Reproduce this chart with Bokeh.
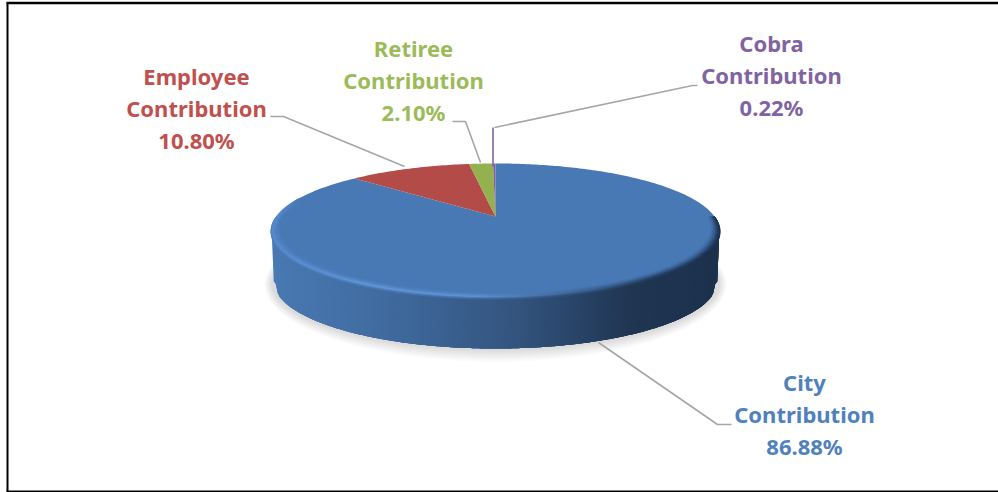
import numpy as np
from bokeh.core.properties import value
from bokeh.embed import file_html
from bokeh.models import ColumnDataSource, Range1d
from bokeh.plotting import figure
from bokeh.resources import INLINE

# Contribution shares in percent, clockwise from twelve o'clock
names = ["City", "Employee", "Retiree", "Cobra"]
shares = [86.88, 10.80, 2.10, 0.22]
text_colors = ["#4f81bd", "#c0504d", "#9bbb59", "#8064a2"]
top_colors = ["#4979b5", "#b34c49", "#94b14f", "#7d62a0"]

# Disc placement on the page, with a projective tilt
CX, CY_APEX = 495.0, 216.0
RX, A, C = 219.0, 64.1, 0.209
DEPTH = 51.0
LEFT, WIDTH = 272.0, 446.0

wall_stops = [(0.0, (73, 121, 178)), (0.25, (64, 107, 160)), (0.55, (51, 84, 126)),
              (0.8, (32, 54, 83)), (1.0, (28, 49, 76))]
rim_stops = [(0.0, (88, 140, 208)), (0.2, (100, 154, 222)), (0.45, (98, 150, 216)),
             (0.68, (62, 100, 150)), (0.85, (36, 62, 96)), (1.0, (30, 52, 82))]
top_rgb = (73, 121, 181)


def project(theta, depth=0.0):
    u, v = np.sin(theta), np.cos(theta)
    w = 1 + C * v
    return CX + RX * u / w, CY_APEX - A * v / w + depth


def mix(stops, t):
    xs = [s[0] for s in stops]
    return np.array([np.interp(t, xs, [s[1][i] for s in stops]) for i in range(3)])


def to_hex(rgb):
    return "#%02x%02x%02x" % tuple(int(round(c)) for c in rgb)


p = figure(width=998, height=492, x_range=Range1d(0, 998), y_range=Range1d(492, 0),
           toolbar_location=None, output_backend="svg", min_border=0, outline_line_color=None)
p.axis.visible = False
p.grid.visible = False

# Page frame
p.line([7, 7], [2, 491], line_color="black", line_width=2)
p.line([6, 998], [2.5, 2.5], line_color="black", line_width=2.4)
p.line([6, 998], [491, 491], line_color="black", line_width=2)

# Soft shadow under the disc
theta_all = np.linspace(0, 2 * np.pi, 241)
for grow in np.linspace(10, 0, 9):
    xs, ys = project(theta_all, DEPTH + 2)
    mx, my = xs.mean(), ys.mean()
    p.patch(mx + (xs - mx) * (1 + 0.7 * grow / 223), my + (ys - my) * (1 + grow / 67),
            fill_color="black", fill_alpha=0.015, line_color=None)

# Side wall, painted left to right; each strip runs on under the next so no gaps show
front = np.linspace(-3 * np.pi / 2, -np.pi / 2, 241)
tx, ty = project(front)
order = np.argsort(tx)
tx, ty = tx[order], ty[order]
grid_x = np.linspace(tx[0], tx[-1], 224)
top_y = np.interp(grid_x, tx, ty)
mid_x = (tx[0] + tx[-1]) / 2
bot_x = mid_x + (grid_x - mid_x) * 0.99
strip_xs, strip_ys, strip_cols = [], [], []
last = len(grid_x) - 1
for i in range(last):
    j = min(i + 4, last)
    strip_xs.append(list(grid_x[i:j + 1]) + list(bot_x[i:j + 1][::-1]))
    strip_ys.append(list(top_y[i:j + 1] - 1) + list((top_y[i:j + 1] + DEPTH)[::-1]))
    strip_cols.append(to_hex(mix(wall_stops, i / (last - 1))))
p.patches(strip_xs, strip_ys, fill_color=strip_cols, line_color=None)

# Slices on the top face, built from the shares
fractions = np.array(shares) / sum(shares)
edges = np.concatenate([[0], np.cumsum(fractions)]) * 2 * np.pi
for i in range(len(shares)):
    th = np.linspace(edges[i], edges[i + 1], max(3, int(fractions[i] * 400)))
    ex, ey = project(th)
    p.patch(np.concatenate([[CX], ex]), np.concatenate([[CY_APEX], ey]),
            fill_color=top_colors[i], line_color=None)

# Bevel on the front rim: opaque bands blended from the face into the highlight and wall
CY_MID = 230.0
band_f = [1.0, 0.75, 0.5, 0.25, 0.0, -0.2, -0.4]
band_w = [0.12, 0.35, 0.65, 0.95, 0.6, 0.25]
rim_theta = np.linspace(-3 * np.pi / 2, -np.pi / 2 + 0.3, 200)


def bevel_point(theta, f):
    x, y = project(theta)
    d = 0.03 + 0.04 * abs(np.cos(theta))
    k = f if f >= 0 else f * abs(np.cos(theta))
    return CX + (x - CX) * (1 - d * k), CY_MID + (y - CY_MID) * (1 - d * k)


band_xs, band_ys, band_cols = [], [], []
for j in range(len(rim_theta) - 1):
    a, b = rim_theta[j], rim_theta[j + 1]
    xa = project(a)[0]
    t = np.clip((xa - LEFT) / WIDTH, 0, 1)
    # fades out past the left extreme, onto the far side of the disc
    fade = np.clip((-np.pi / 2 + 0.3 - a) / 0.3, 0, 1)
    for k, w in enumerate(band_w):
        if k >= 4 and a > -np.pi / 2:
            continue
        f0, f1 = band_f[k], band_f[k + 1]
        pts = [bevel_point(a, f0), bevel_point(b, f0), bevel_point(b, f1), bevel_point(a, f1)]
        base = np.array(top_rgb) if k < 4 else mix(wall_stops, t)
        band_xs.append([q[0] for q in pts])
        band_ys.append([q[1] for q in pts])
        band_cols.append(to_hex(base * (1 - w * fade) + mix(rim_stops, t) * w * fade))
p.patches(band_xs, band_ys, fill_color=band_cols, line_color=band_cols, line_width=0.5)

# Leader lines
LEADER = "#a6a6a6"
leaders = {
    "City": ([598, 717, 731], [342, 424, 424]),
    "Employee": ([404, 283, 270], [166, 116, 116]),
    "Retiree": ([480, 465, 452], [162, 121, 121]),
    "Cobra": ([494, 692, 697], [127, 85, 85]),
}
for xs, ys in leaders.values():
    p.line(xs, ys, line_color=LEADER, line_width=1.6)
p.line([492.5, 492.5], [127, 166], line_color="#8064a2", line_width=1.6)

# Data labels: name, the word Contribution, share
label_pos = {"City": (804, 381), "Employee": (196, 75), "Retiree": (413, 47), "Cobra": (771, 42)}
LINE_H = 32.0
for name, share, col in zip(names, shares, text_colors):
    x, y = label_pos[name]
    lines = [name, "Contribution", f"{share:.2f}%"]
    src = ColumnDataSource(dict(x=[x] * 3, y=[y + k * LINE_H for k in range(3)], t=lines))
    p.text("x", "y", text="t", source=src, text_color=col, text_font=value("Noto Sans"),
           text_font_style="bold", text_font_size="22px", text_align="center",
           text_baseline="middle")

open("out.html", "w").write(file_html(p, INLINE))
